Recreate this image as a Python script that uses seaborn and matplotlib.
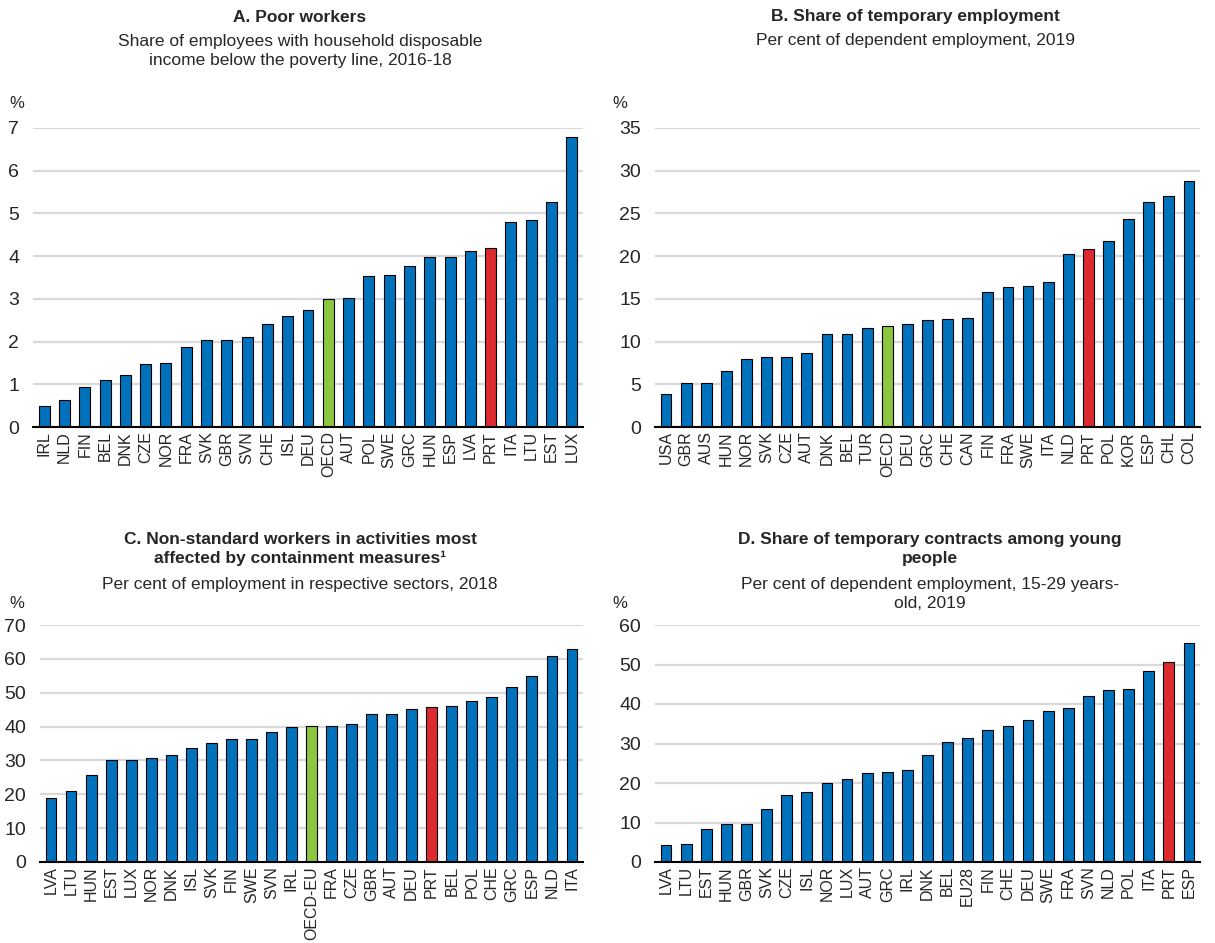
import matplotlib
matplotlib.use("Agg")
import matplotlib.pyplot as plt
from matplotlib import font_manager
from matplotlib.ticker import FixedLocator, NullFormatter
import seaborn as sns

# ---- data -------------------------------------------------------------
poor_countries = ["IRL", "NLD", "FIN", "BEL", "DNK", "CZE", "NOR", "FRA", "SVK", "GBR",
                  "SVN", "CHE", "ISL", "DEU", "OECD", "AUT", "POL", "SWE", "GRC", "HUN",
                  "ESP", "LVA", "PRT", "ITA", "LTU", "EST", "LUX"]
poor_values = [0.48, 0.64, 0.93, 1.10, 1.21, 1.47, 1.51, 1.87, 2.03, 2.04,
               2.10, 2.42, 2.59, 2.73, 3.00, 3.03, 3.53, 3.55, 3.76, 3.98,
               3.99, 4.13, 4.19, 4.79, 4.85, 5.26, 6.80]

temp_countries = ["USA", "GBR", "AUS", "HUN", "NOR", "SVK", "CZE", "AUT", "DNK", "BEL",
                  "TUR", "OECD", "DEU", "GRC", "CHE", "CAN", "FIN", "FRA", "SWE", "ITA",
                  "NLD", "PRT", "POL", "KOR", "ESP", "CHL", "COL"]
temp_values = [3.9, 5.1, 5.2, 6.6, 8.0, 8.2, 8.2, 8.7, 10.9, 10.9,
               11.6, 11.8, 12.0, 12.5, 12.7, 12.8, 15.8, 16.4, 16.5, 17.0,
               20.3, 20.8, 21.8, 24.4, 26.3, 27.0, 28.8]

nonstd_countries = ["LVA", "LTU", "HUN", "EST", "LUX", "NOR", "DNK", "ISL", "SVK", "FIN",
                    "SWE", "SVN", "IRL", "OECD-EU", "FRA", "CZE", "GBR", "AUT", "DEU", "PRT",
                    "BEL", "POL", "CHE", "GRC", "ESP", "NLD", "ITA"]
nonstd_values = [18.8, 21.1, 25.7, 30.0, 30.1, 30.7, 31.5, 33.6, 35.1, 36.3,
                 36.4, 38.3, 39.8, 40.1, 40.2, 40.7, 43.8, 43.8, 45.1, 45.7,
                 46.0, 47.6, 48.6, 51.8, 54.8, 60.8, 62.9]

young_countries = ["LVA", "LTU", "EST", "HUN", "GBR", "SVK", "CZE", "ISL", "NOR", "LUX",
                   "AUT", "GRC", "IRL", "DNK", "BEL", "EU28", "FIN", "CHE", "DEU", "SWE",
                   "FRA", "SVN", "NLD", "POL", "ITA", "PRT", "ESP"]
young_values = [4.4, 4.6, 8.4, 9.6, 9.6, 13.3, 17.0, 17.6, 19.9, 21.1,
                22.6, 22.9, 23.3, 27.1, 30.4, 31.5, 33.4, 34.4, 36.0, 38.2,
                39.0, 42.1, 43.5, 43.8, 48.3, 50.7, 55.4]

# ---- style -------------------------------------------------------------
sns.set_style("white")
available = {f.name for f in font_manager.fontManager.ttflist}
narrow = "Liberation Sans Narrow" if "Liberation Sans Narrow" in available else "Liberation Sans"
regular = "Liberation Sans"
plt.rcParams["font.family"] = [narrow, "DejaVu Sans"]

BLUE = "#0072BC"
RED = "#DD2A2F"
GREEN = "#8CC63F"
GRID = "#D9D9D9"

W, H = 1215, 943
fig = plt.figure(figsize=(W / 100, H / 100), dpi=100)


def box(x0, x1, ytop, ybot):
    return [x0 / W, 1 - ybot / H, (x1 - x0) / W, (ybot - ytop) / H]


def panel(rect, cats, vals, ymax, step, highlight, average):
    ax = fig.add_axes(rect)
    colors = [RED if c == highlight else GREEN if c == average else BLUE for c in cats]
    sns.barplot(x=cats, y=vals, hue=cats, palette=colors, legend=False, ax=ax,
                width=0.54, edgecolor="black", linewidth=0.8, saturation=1)
    n = len(cats)
    ax.set_xlim(-0.55, n - 0.45)
    ax.set_ylim(0, ymax)
    ax.set_yticks(range(0, ymax + 1, step))
    ax.yaxis.grid(True, color=GRID, linewidth=1.6)
    ax.set_axisbelow(True)
    for s in ("top", "right", "left"):
        ax.spines[s].set_visible(False)
    ax.spines["bottom"].set_color("black")
    ax.spines["bottom"].set_linewidth(1.5)
    ax.tick_params(axis="y", length=0, labelsize=14, pad=10)
    ax.tick_params(axis="x", which="major", length=0, pad=3)
    ax.xaxis.set_minor_locator(FixedLocator([i - 0.5 for i in range(n + 1)]))
    ax.xaxis.set_minor_formatter(NullFormatter())
    ax.tick_params(axis="x", which="minor", direction="in", length=5, width=1.2,
                   color="black")
    ax.set_xticks(range(n))
    ax.set_xticklabels(cats, rotation=90, fontsize=11.5, family=regular)
    ax.set_xlabel("")
    ax.set_ylabel("")
    return ax


TITLE = 12.5
SUB = 12.5

# Panel A
panel(box(33, 583, 128, 427), poor_countries, poor_values, 7, 1, "PRT", "OECD")
fig.text(300 / W, 1 - 17 / H, "A. Poor workers", ha="center", va="center",
         fontsize=TITLE, fontweight="bold")
fig.text(300 / W, 1 - 51 / H,
         "Share of employees with household disposable\nincome below the poverty line, 2016-18",
         ha="center", va="center", fontsize=SUB, linespacing=1.3)
fig.text(17 / W, 1 - 103 / H, "%", ha="center", va="center", fontsize=12)

# Panel B
panel(box(655, 1200, 128, 427), temp_countries, temp_values, 35, 5, "PRT", "OECD")
fig.text(915 / W, 1 - 17 / H, "B. Share of temporary employment", ha="center",
         va="center", fontsize=TITLE, fontweight="bold")
fig.text(915 / W, 1 - 40 / H, "Per cent of dependent employment, 2019", ha="center",
         va="center", fontsize=SUB)
fig.text(620 / W, 1 - 103 / H, "%", ha="center", va="center", fontsize=12)

# Panel C
panel(box(40, 583, 625, 862), nonstd_countries, nonstd_values, 70, 10, "PRT", "OECD-EU")
fig.text(300 / W, 1 - 549 / H,
         "C. Non-standard workers in activities most\naffected by containment measures\u00b9",
         ha="center", va="center", fontsize=TITLE, fontweight="bold", linespacing=1.3)
fig.text(300 / W, 1 - 584 / H, "Per cent of employment in respective sectors, 2018",
         ha="center", va="center", fontsize=SUB)
fig.text(17 / W, 1 - 603 / H, "%", ha="center", va="center", fontsize=12)

# Panel D
panel(box(655, 1200, 625, 862), young_countries, young_values, 60, 10, "PRT", None)
fig.text(930 / W, 1 - 549 / H,
         "D. Share of temporary contracts among young\npeople",
         ha="center", va="center", fontsize=TITLE, fontweight="bold", linespacing=1.3)
fig.text(930 / W, 1 - 594 / H,
         "Per cent of dependent employment, 15-29 years-\nold, 2019",
         ha="center", va="center", fontsize=SUB, linespacing=1.25)
fig.text(620 / W, 1 - 603 / H, "%", ha="center", va="center", fontsize=12)

fig.savefig("out.png", dpi=100, facecolor="white")
